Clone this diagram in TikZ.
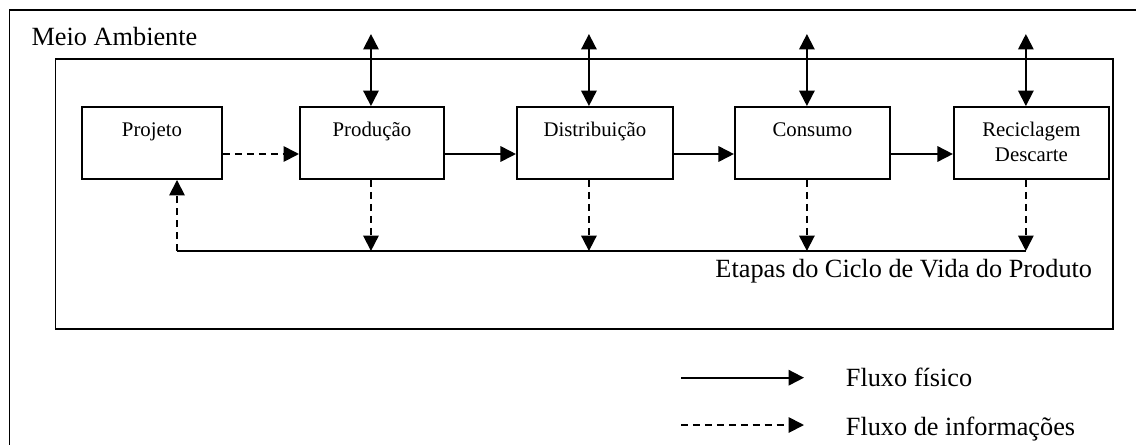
\documentclass[tikz,border=0pt]{standalone}
\usepackage{fontspec}
\setmainfont{Liberation Serif}
\usetikzlibrary{positioning, arrows.meta, calc}

\newcommand{\rotulo}{\fontsize{18.7}{22}\selectfont}

\begin{document}
\begin{tikzpicture}[>={Triangle[length=11pt, width=11pt]}, line width=1.3pt,
  frame/.style={line width=1.4pt},
  stage/.style={draw, line width=1.4pt, inner sep=0pt, align=center, font=\fontsize{14.8}{17.8}\selectfont, text height=21pt, text depth=30.2pt},
  info/.style={->, dash pattern=on 5pt off 3.5pt},
  texto/.style={inner sep=0pt, font=\rotulo}]

\useasboundingbox (0,0) rectangle (28.4,-11.1);

% frames
\draw[frame] (0.2375,-0.25) rectangle (28.9,-11.6);
\draw[frame] (1.3875,-1.4675) rectangle (27.825,-8.2325);
\node[texto, anchor=base west] (ambiente) at (0.7675,-1.1425) {Meio Ambiente};

% stages
\node[stage, minimum width=3.5cm] (projeto) at (3.8,-3.575) {Projeto};
\node[stage, minimum width=3.6cm, right=1.9cm of projeto] (producao) {Produção};
\node[stage, minimum width=3.9cm, right=1.775cm of producao] (distribuicao) {Distribuição};
\node[stage, minimum width=3.875cm, right=1.5cm of distribuicao] (consumo) {Consumo};
\node[stage, minimum width=3.875cm, text height=38.8pt, text depth=12.4pt, right=1.55cm of consumo] (reciclagem) {Reciclagem\\Descarte};

\draw[info] ([yshift=-0.275cm] projeto.east) -- ([yshift=-0.275cm] producao.west);
\draw[->] ([yshift=-0.275cm] producao.east) -- ([yshift=-0.275cm] distribuicao.west);
\draw[->] ([yshift=-0.275cm] distribuicao.east) -- ([yshift=-0.275cm] consumo.west);
\draw[->] ([yshift=-0.275cm] consumo.east) -- ([yshift=-0.275cm] reciclagem.west);

\foreach \n/\dx in {producao/-0.025, distribuicao/-0.15, consumo/-0.1375, reciclagem/-0.1375} {
  \coordinate (\n-meio) at ([xshift=\dx cm, yshift=1.8cm] \n.north);
  \coordinate (\n-ret) at ([xshift=\dx cm, yshift=-1.775cm] \n.south);
  \draw[<->] (\n-meio) -- ([xshift=\dx cm] \n.north);
  \draw[info] ([xshift=\dx cm] \n.south) -- (\n-ret);
}

\coordinate (retorno) at ([xshift=0.625cm, yshift=-1.775cm] projeto.south);
\draw (retorno) -- (reciclagem-ret);
\draw[info] (retorno) -- ([xshift=0.625cm] projeto.south);

\node[texto, anchor=base east] (etapas) at (27.325,-6.925) {Etapas do Ciclo de Vida do Produto};

% legend
\node[texto, anchor=base west] (fisico) at (21.125,-9.6675) {Fluxo físico};
\node[texto, anchor=base west] (informacoes) at (21.125,-10.875) {Fluxo de informações};
\coordinate (leg-fisico) at (17.025,-9.4425);
\coordinate (leg-info) at (17.025,-10.625);
\draw[->] (leg-fisico) -- (leg-fisico -| 20.1,0);
\draw[info] (leg-info) -- (leg-info -| 20.1,0);

\end{tikzpicture}
\end{document}
